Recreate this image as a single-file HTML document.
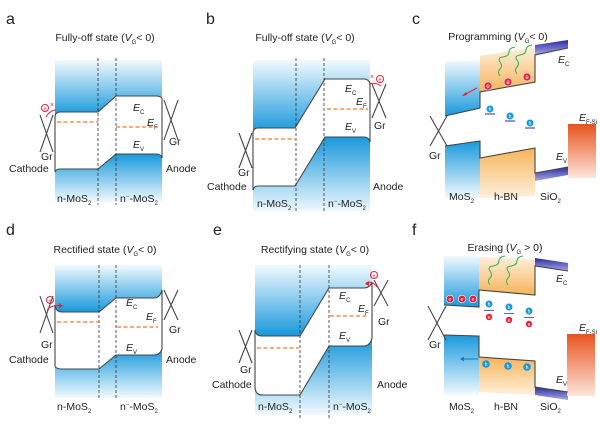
<!DOCTYPE html>
<html><head><meta charset="utf-8"><style>
body{margin:0;background:#fff}
svg{display:block}
text{font-family:"Liberation Sans",Arial,sans-serif;fill:#222}
</style></head><body>
<svg width="600" height="426" viewBox="0 0 600 426" xmlns="http://www.w3.org/2000/svg">
<defs>
<linearGradient id="gt" x1="0" y1="0" x2="0" y2="1"><stop offset="0" stop-color="#f2fafe"/><stop offset="1" stop-color="#1898dc"/></linearGradient>
<linearGradient id="gb" x1="0" y1="0" x2="0" y2="1"><stop offset="0" stop-color="#1898dc"/><stop offset="1" stop-color="#f2fafe"/></linearGradient>
<linearGradient id="ot" x1="0" y1="0" x2="0" y2="1"><stop offset="0" stop-color="#fdf0dc"/><stop offset="1" stop-color="#f7b45a"/></linearGradient>
<linearGradient id="ob" x1="0" y1="0" x2="0" y2="1"><stop offset="0" stop-color="#f7b45a"/><stop offset="1" stop-color="#fdf0dc"/></linearGradient>
<linearGradient id="si" x1="0" y1="0" x2="0" y2="1"><stop offset="0" stop-color="#e8531e"/><stop offset="1" stop-color="#fde6dc"/></linearGradient>
<linearGradient id="sio" x1="0" y1="0" x2="0" y2="1"><stop offset="0" stop-color="#2a2aa0"/><stop offset="1" stop-color="#a8a8e8"/></linearGradient>
</defs>

<g font-size="10.5">
<!-- ========== Panel a ========== -->
<text x="6" y="24" font-size="16">a</text>
<text x="105" y="41" text-anchor="middle">Fully-off state (<tspan font-style="italic">V</tspan><tspan font-size="6" dy="3">G</tspan><tspan dy="-3">&lt; 0)</tspan></text>
<path d="M55,60H162V98Q160,96 156,96H116L98,112H60Q56,112 55,116Z" fill="url(#gt)"/>
<path d="M55,172Q56,169 60,169H98L116,154H156Q161,154 162,158V202H55Z" fill="url(#gb)"/>
<g fill="none" stroke="#444" stroke-width="1.1">
<path d="M55,116Q56,112 60,112H98L116,96H156Q160,96 162,98V158Q161,154 156,154H116L98,169H60Q56,169 55,172Z"/>
<path d="M40,115L53,152M53,115L40,152M164,100L178,140M178,100L164,140"/>
</g>
<g stroke="#333" stroke-dasharray="3,2" stroke-width="0.8"><path d="M98,58V205M116,58V205"/></g>
<g stroke="#f07a28" stroke-dasharray="4,2.5" stroke-width="1.2"><path d="M57,122H98M116,127H158"/></g>
<text x="133" y="111" font-style="italic">E<tspan font-size="6" dy="3" font-style="normal">C</tspan></text>
<text x="147" y="126" font-style="italic">E<tspan font-size="6" dy="3" font-style="normal">F</tspan></text>
<text x="133" y="148" font-style="italic">E<tspan font-size="6" dy="3" font-style="normal">V</tspan></text>
<text x="41" y="160">Gr</text><text x="9" y="172">Cathode</text>
<text x="169" y="145">Gr</text><text x="166" y="172">Anode</text>
<text x="57" y="202">n-MoS<tspan font-size="6" dy="3">2</tspan></text>
<text x="120" y="202">n<tspan font-size="6" dy="-4">−</tspan><tspan dy="4">-MoS</tspan><tspan font-size="6" dy="3">2</tspan></text>
<circle cx="45" cy="108" r="3.5" fill="none" stroke="#e8203a"/><text x="45" y="110.5" font-size="5" text-anchor="middle" style="fill:#e8203a">e</text>
<path d="M46,117Q50,110 56,110" fill="none" stroke="#e8203a"/><text x="50" y="107" font-size="7" style="fill:#e8203a">×</text>

<!-- ========== Panel b ========== -->
<text x="206" y="24" font-size="16">b</text>
<text x="305" y="41" text-anchor="middle">Fully-off state (<tspan font-style="italic">V</tspan><tspan font-size="6" dy="3">G</tspan><tspan dy="-3">&lt; 0)</tspan></text>
<path d="M253,60H370V83Q368,79 364,79H325L295,128H258Q254,128 253,132Z" fill="url(#gt)"/>
<path d="M253,190Q254,186 258,186H295L325,137H364Q369,137 370,142V212H253Z" fill="url(#gb)"/>
<g fill="none" stroke="#444" stroke-width="1.1">
<path d="M253,132Q254,128 258,128H295L325,79H364Q368,79 370,83V142Q369,137 364,137H325L295,186H258Q254,186 253,190Z"/>
<path d="M239,133L252,168M252,133L239,168M372,84L386,118M386,84L372,118"/>
</g>
<g stroke="#333" stroke-dasharray="3,2" stroke-width="0.8"><path d="M296,58V213M324,58V213"/></g>
<g stroke="#f07a28" stroke-dasharray="4,2.5" stroke-width="1.2"><path d="M255,139H295M327,109H368"/></g>
<text x="345" y="92" font-style="italic">E<tspan font-size="6" dy="3" font-style="normal">C</tspan></text>
<text x="356" y="105" font-style="italic">E<tspan font-size="6" dy="3" font-style="normal">F</tspan></text>
<text x="345" y="130" font-style="italic">E<tspan font-size="6" dy="3" font-style="normal">V</tspan></text>
<text x="238" y="176">Gr</text><text x="207" y="190">Cathode</text>
<text x="374" y="129">Gr</text><text x="373" y="190">Anode</text>
<text x="257" y="207">n-MoS<tspan font-size="6" dy="3">2</tspan></text>
<text x="328" y="207">n<tspan font-size="6" dy="-4">−</tspan><tspan dy="4">-MoS</tspan><tspan font-size="6" dy="3">2</tspan></text>
<circle cx="380" cy="79" r="3.5" fill="none" stroke="#e8203a"/><text x="380" y="81.5" font-size="5" text-anchor="middle" style="fill:#e8203a">e</text>
<path d="M381,86Q376,82 369,84" fill="none" stroke="#e8203a"/><text x="370" y="79" font-size="7" style="fill:#e8203a">×</text>

<!-- ========== Panel c ========== -->
<text x="412" y="24" font-size="16">c</text>
<text x="498" y="40" text-anchor="middle">Programming (<tspan font-style="italic">V</tspan><tspan font-size="6" dy="3">G</tspan><tspan dy="-3">&lt; 0)</tspan></text>
<path d="M445,62L480,60V108L445,116Z" fill="url(#gt)"/>
<path d="M445,146L480,141V198H445Z" fill="url(#gb)"/>
<path d="M480,56L535,47V82L480,92Z" fill="url(#ot)"/>
<path d="M480,158L535,148V196L480,198Z" fill="url(#ob)"/>
<path d="M535,45L568,40V48L535,55Z" fill="url(#sio)"/>
<path d="M535,173L568,167V175L535,181Z" fill="url(#sio)"/>
<rect x="568" y="124" width="28" height="54" fill="url(#si)"/>
<g fill="none" stroke="#444" stroke-width="1.1">
<path d="M445,116L480,108V92L535,82V55L568,48"/>
<path d="M445,146L480,141V158L535,148V173L568,167"/>
<path d="M430,116L447,146M447,116L430,146"/>
</g>
<g fill="none" stroke="#2fb04a" stroke-width="1"><path d="M500,76q-3,-4 0,-7t0,-7 3,-5 6,-5 6,-5"/><path d="M517,74q-3,-4 0,-7t0,-7 3,-5 6,-5 6,-5"/></g>
<g fill="#e8203a" stroke="#fff" stroke-width="0.6"><circle cx="488" cy="86" r="4"/><circle cx="508" cy="82" r="4"/><circle cx="527" cy="77" r="4"/></g>
<g font-size="6" text-anchor="middle"><text x="488" y="88" style="fill:#fff">e</text><text x="508" y="84" style="fill:#fff">e</text><text x="527" y="79" style="fill:#fff">e</text></g>
<path d="M477,88L464,95" stroke="#e8203a" stroke-width="1"/><path d="M462,96l4,-4 1,3z" fill="#e8203a"/>
<g fill="#1898dc"><circle cx="490" cy="109" r="3.5"/><circle cx="510" cy="116" r="3.5"/><circle cx="530" cy="123" r="3.5"/></g>
<g font-size="5" text-anchor="middle"><text x="490" y="111" style="fill:#fff">h</text><text x="510" y="118" style="fill:#fff">h</text><text x="530" y="125" style="fill:#fff">h</text></g>
<g stroke="#2a2aa0"><path d="M485,114H495M505,121H515M525,128H535"/></g>
<text x="558" y="63" font-style="italic">E<tspan font-size="6" dy="3" font-style="normal">C</tspan></text>
<text x="556" y="160" font-style="italic">E<tspan font-size="6" dy="3" font-style="normal">V</tspan></text>
<text x="579" y="121" font-style="italic">E<tspan font-size="6" dy="3" font-style="normal">F-Si</tspan></text>
<text x="429" y="159">Gr</text>
<text x="449" y="200">MoS<tspan font-size="6" dy="3">2</tspan></text>
<text x="494" y="200">h-BN</text>
<text x="540" y="200">SiO<tspan font-size="6" dy="3">2</tspan></text>

<!-- ========== Panel d ========== -->
<text x="6" y="235" font-size="16">d</text>
<text x="105" y="253" text-anchor="middle">Rectified state (<tspan font-style="italic">V</tspan><tspan font-size="6" dy="3">G</tspan><tspan dy="-3">&lt; 0)</tspan></text>
<path d="M55,265H162V290Q160,298 154,298H116L99,312H62Q56,312 55,305Z" fill="url(#gt)"/>
<path d="M55,366Q56,369 62,369H99L116,355H154Q160,355 162,349V398H55Z" fill="url(#gb)"/>
<g fill="none" stroke="#444" stroke-width="1.1">
<path d="M55,305Q56,312 62,312H99L116,298H154Q160,298 162,290V349Q160,355 154,355H116L99,369H62Q56,369 55,366Z"/>
<path d="M40,296L53,333M53,296L40,333M164,290L178,320M178,290L164,320"/>
</g>
<g stroke="#333" stroke-dasharray="3,2" stroke-width="0.8"><path d="M99,265V400M116,265V400"/></g>
<g stroke="#f07a28" stroke-dasharray="4,2.5" stroke-width="1.2"><path d="M57,322H99M117,327H158"/></g>
<text x="126" y="306" font-style="italic">E<tspan font-size="6" dy="3" font-style="normal">C</tspan></text>
<text x="146" y="320" font-style="italic">E<tspan font-size="6" dy="3" font-style="normal">F</tspan></text>
<text x="126" y="351" font-style="italic">E<tspan font-size="6" dy="3" font-style="normal">V</tspan></text>
<text x="41" y="348">Gr</text><text x="9" y="363">Cathode</text>
<text x="169" y="333">Gr</text><text x="166" y="363">Anode</text>
<text x="57" y="410">n-MoS<tspan font-size="6" dy="3">2</tspan></text>
<text x="120" y="410">n<tspan font-size="6" dy="-4">−</tspan><tspan dy="4">-MoS</tspan><tspan font-size="6" dy="3">2</tspan></text>
<circle cx="50" cy="300" r="3.5" fill="none" stroke="#e8203a"/><text x="50" y="302.5" font-size="5" text-anchor="middle" style="fill:#e8203a">e</text>
<path d="M47,310Q52,304 62,306" fill="none" stroke="#e8203a"/><path d="M63,306l-4,-3 0,5z" fill="#e8203a"/>

<!-- ========== Panel e ========== -->
<text x="213" y="235" font-size="16">e</text>
<text x="315" y="253" text-anchor="middle">Rectifying state (<tspan font-style="italic">V</tspan><tspan font-size="6" dy="3">G</tspan><tspan dy="-3">&lt; 0)</tspan></text>
<path d="M255,265H372V282Q370,288 364,288H329L300,336H262Q256,336 255,330Z" fill="url(#gt)"/>
<path d="M255,388Q256,395 262,395H300L329,346H364Q370,346 372,338V415H255Z" fill="url(#gb)"/>
<g fill="none" stroke="#444" stroke-width="1.1">
<path d="M255,330Q256,336 262,336H300L329,288H364Q370,288 372,282V338Q370,346 364,346H329L300,395H262Q256,395 255,388Z"/>
<path d="M239,330L252,363M252,330L239,363M374,280L388,306M388,280L374,306"/>
</g>
<g stroke="#333" stroke-dasharray="3,2" stroke-width="0.8"><path d="M300,265V418M329,265V418"/></g>
<g stroke="#f07a28" stroke-dasharray="4,2.5" stroke-width="1.2"><path d="M257,348H299M330,316H368"/></g>
<text x="339" y="299" font-style="italic">E<tspan font-size="6" dy="3" font-style="normal">C</tspan></text>
<text x="358" y="312" font-style="italic">E<tspan font-size="6" dy="3" font-style="normal">F</tspan></text>
<text x="339" y="339" font-style="italic">E<tspan font-size="6" dy="3" font-style="normal">V</tspan></text>
<text x="240" y="373">Gr</text><text x="212" y="388">Cathode</text>
<text x="378" y="325">Gr</text><text x="377" y="388">Anode</text>
<text x="258" y="410">n-MoS<tspan font-size="6" dy="3">2</tspan></text>
<text x="333" y="410">n<tspan font-size="6" dy="-4">−</tspan><tspan dy="4">-MoS</tspan><tspan font-size="6" dy="3">2</tspan></text>
<circle cx="374" cy="275" r="3.5" fill="none" stroke="#e8203a"/><text x="374" y="277.5" font-size="5" text-anchor="middle" style="fill:#e8203a">e</text>
<path d="M377,287Q372,280 366,283" fill="none" stroke="#e8203a"/><path d="M365,284l4,-3 0,5z" fill="#e8203a"/>

<!-- ========== Panel f ========== -->
<text x="412" y="235" font-size="16">f</text>
<text x="505" y="251" text-anchor="middle">Erasing (<tspan font-style="italic">V</tspan><tspan font-size="6" dy="3">G</tspan><tspan dy="-3"> &gt; 0)</tspan></text>
<path d="M444,256H479V307L444,305Z" fill="url(#gt)"/>
<path d="M444,335L479,336V395H444Z" fill="url(#gb)"/>
<path d="M479,257L535,259V295L479,290Z" fill="url(#ot)"/>
<path d="M479,357L535,361V395L479,392Z" fill="url(#ob)"/>
<path d="M535,258L568,263V271L535,266Z" fill="url(#sio)"/>
<path d="M535,387L568,392V400L535,395Z" fill="url(#sio)"/>
<rect x="567" y="334" width="28" height="62" fill="url(#si)"/>
<g fill="none" stroke="#444" stroke-width="1.1">
<path d="M444,305L479,307V290L535,295V266L568,271"/>
<path d="M444,335L479,336V357L535,361V387L568,392"/>
<path d="M428,306L446,340M446,306L428,340"/>
</g>
<g fill="none" stroke="#2fb04a" stroke-width="1"><path d="M490,285q-3,-4 0,-7t0,-7 3,-5 6,-5 6,-5"/><path d="M508,285q-3,-4 0,-7t0,-7 3,-5 6,-5 6,-5"/></g>
<g fill="#e8203a" stroke="#fff" stroke-width="0.6"><circle cx="450" cy="299" r="3.8"/><circle cx="462" cy="299" r="3.8"/><circle cx="473" cy="299" r="3.8"/><circle cx="489" cy="317" r="3.5"/><circle cx="509" cy="320" r="3.5"/><circle cx="529" cy="324" r="3.5"/></g>
<g fill="#1898dc"><circle cx="489" cy="304" r="3.5"/><circle cx="509" cy="307" r="3.5"/><circle cx="529" cy="311" r="3.5"/><circle cx="486" cy="364" r="3.8"/><circle cx="508" cy="366" r="3.8"/><circle cx="527" cy="367" r="3.8"/></g>
<g stroke="#2a2aa0" stroke-width="0.8"><path d="M484,310.5H494M504,313.5H514M524,317.5H534"/></g>
<g font-size="5" text-anchor="middle">
<text x="450" y="301" style="fill:#fff">e</text><text x="462" y="301" style="fill:#fff">e</text><text x="473" y="301" style="fill:#fff">e</text>
<text x="489" y="319" style="fill:#fff">e</text><text x="509" y="322" style="fill:#fff">e</text><text x="529" y="326" style="fill:#fff">e</text>
<text x="489" y="306" style="fill:#fff">h</text><text x="509" y="309" style="fill:#fff">h</text><text x="529" y="313" style="fill:#fff">h</text>
<text x="486" y="366" style="fill:#fff">h</text><text x="508" y="368" style="fill:#fff">h</text><text x="527" y="369" style="fill:#fff">h</text>
</g>
<path d="M478,359H463" stroke="#1878c8" stroke-width="1"/><path d="M460,359l4,-2.5 0,5z" fill="#1878c8"/>
<text x="556" y="282" font-style="italic">E<tspan font-size="6" dy="3" font-style="normal">C</tspan></text>
<text x="556" y="383" font-style="italic">E<tspan font-size="6" dy="3" font-style="normal">V</tspan></text>
<text x="579" y="331" font-style="italic">E<tspan font-size="6" dy="3" font-style="normal">F-Si</tspan></text>
<text x="429" y="348">Gr</text>
<text x="449" y="410">MoS<tspan font-size="6" dy="3">2</tspan></text>
<text x="494" y="410">h-BN</text>
<text x="540" y="410">SiO<tspan font-size="6" dy="3">2</tspan></text>
</g>
</svg>
</body></html>
